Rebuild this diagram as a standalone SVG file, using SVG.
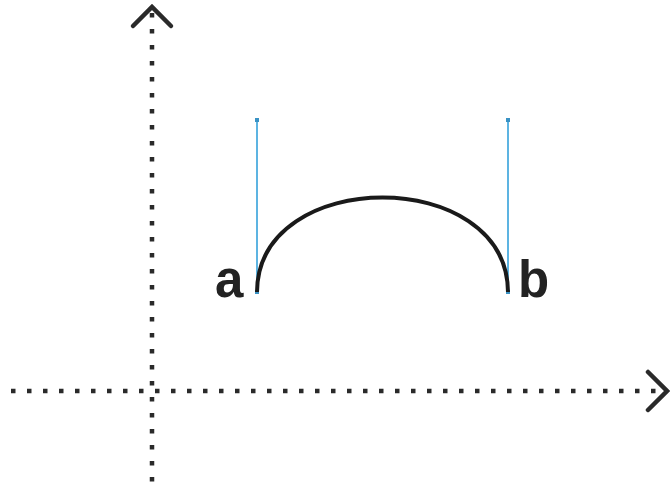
<svg xmlns="http://www.w3.org/2000/svg" width="670" height="487" viewBox="0 0 670 487">
<style>
.axis{stroke:#2a2a2a;stroke-width:4.5;stroke-dasharray:4.5 11.5;fill:none}
.arrow{stroke:#2a2a2a;stroke-width:4.5;fill:none;stroke-linecap:round;stroke-linejoin:miter}
.handle{stroke:#5db4e2;stroke-width:2;fill:none}
.pt{fill:#3a92c4}
.curve{stroke:#1a1a1a;stroke-width:4;fill:none}
.lbl{font-family:"Liberation Sans",Arial,sans-serif;font-weight:bold;font-size:51px;fill:#222}
</style>
<rect width="670" height="487" fill="#fff"/>
<g id="connectors">
<line id="y-axis" class="axis" x1="152" y1="13" x2="152" y2="487"/>
<line id="x-axis" class="axis" x1="11" y1="391" x2="658" y2="391"/>
<polyline class="arrow" points="133,26 152,7 171,26"/>
<polyline class="arrow" points="648,372 667,391 648,410"/>
</g>
<g id="handle-a">
<line class="handle" x1="257" y1="120" x2="257" y2="292"/>
<rect class="pt" x="255" y="118" width="4" height="4"/>
<rect class="pt" x="255" y="290" width="4" height="4"/>
</g>
<g id="handle-b">
<line class="handle" x1="508" y1="120" x2="508" y2="292"/>
<rect class="pt" x="506" y="118" width="4" height="4"/>
<rect class="pt" x="506" y="290" width="4" height="4"/>
</g>
<g id="curve">
<path class="curve" d="M257,292 C258,166 507,166 508,292"/>
</g>
<g id="label-a"><text class="lbl" x="215" y="297">a</text></g>
<g id="label-b"><text class="lbl" x="518" y="297">b</text></g>
</svg>
